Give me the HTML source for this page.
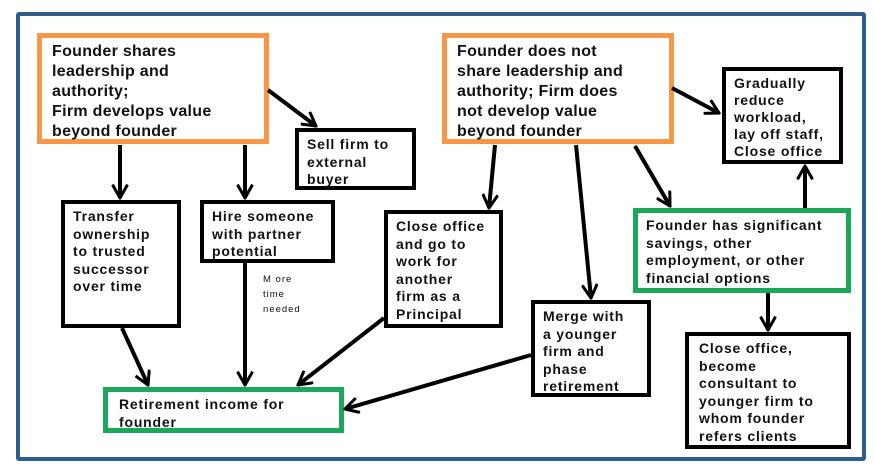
<!DOCTYPE html>
<html><head><meta charset="utf-8"><style>
body{margin:0;width:874px;height:464px;background:#fff;position:relative;overflow:hidden;font-family:"Liberation Sans",Arial,sans-serif}
.b{position:absolute;box-sizing:border-box;background:#fff;font-weight:bold;color:#111;white-space:nowrap;font-size:14px;letter-spacing:0.8px;line-height:17.5px;padding:4px 8px}
.o{border:5px solid #f79646;font-size:16px;letter-spacing:0.3px;line-height:20px;padding:4px 10px}
.k{border:4px solid #000}
.g{border:5px solid #1aa85a}
.f{position:absolute;left:16px;top:12px;width:850px;height:449px;box-sizing:border-box;border:4px solid #2e5f8c;border-radius:3px}
svg{position:absolute;left:0;top:0}
</style></head><body>
<div class="f"></div>
<div class="b o" style="left:37px;top:33px;width:232px;height:111px">Founder shares<br>leadership and<br>authority;<br>Firm develops value<br>beyond founder</div>
<div class="b o" style="left:442px;top:33px;width:232px;height:111px">Founder does not<br>share leadership and<br>authority; Firm does<br>not develop value<br>beyond founder</div>
<div class="b k" style="left:295px;top:128px;width:121px;height:62px">Sell firm to<br>external<br>buyer</div>
<div class="b k" style="left:61px;top:200px;width:120px;height:128px">Transfer<br>ownership<br>to trusted<br>successor<br>over time</div>
<div class="b k" style="left:200px;top:200px;width:135px;height:63px">Hire someone<br>with partner<br>potential</div>
<div class="b k" style="left:384px;top:210px;width:119px;height:118px">Close office<br>and go to<br>work for<br>another<br>firm as a<br>Principal</div>
<div class="b k" style="left:531px;top:300px;width:120px;height:97px">Merge with<br>a younger<br>firm and<br>phase<br>retirement</div>
<div class="b k" style="left:722px;top:67px;width:121px;height:97px;line-height:17px">Gradually<br>reduce<br>workload,<br>lay off staff,<br>Close office</div>
<div class="b g" style="left:633px;top:208px;width:218px;height:85px;line-height:17.5px">Founder has significant<br>savings, other<br>employment, or other<br>financial options</div>
<div class="b k" style="left:685px;top:332px;width:166px;height:117px;padding:4px 10px">Close office,<br>become<br>consultant to<br>younger firm to<br>whom founder<br>refers clients</div>
<div class="b g" style="left:103px;top:387px;width:241px;height:46px;padding:4px 11px">Retirement income for<br>founder</div>
<div style="position:absolute;left:263px;top:272px;font-size:9.5px;line-height:15px;letter-spacing:1px;color:#111">M ore<br>time<br>needed</div>
<svg width="874" height="464">
<defs><marker id="a" viewBox="0 0 10 10" refX="9" refY="5" markerWidth="4.2" markerHeight="4.2" orient="auto" markerUnits="strokeWidth"><polyline points="1,0.5 9,5 1,9.5" fill="none" stroke="#000" stroke-width="1.8"/></marker></defs>
<g stroke="#000" stroke-width="4" fill="none" marker-end="url(#a)">
<line x1="120" y1="145" x2="120" y2="198"/>
<line x1="245" y1="145" x2="245" y2="198"/>
<line x1="268" y1="90" x2="316" y2="126"/>
<line x1="122" y1="328" x2="148" y2="385"/>
<line x1="245" y1="263" x2="245" y2="385"/>
<line x1="384" y1="318" x2="298" y2="385"/>
<line x1="531" y1="355" x2="345" y2="409"/>
<line x1="495" y1="145" x2="489" y2="208"/>
<line x1="576" y1="145" x2="591" y2="298"/>
<line x1="635" y1="146" x2="670" y2="206"/>
<line x1="672" y1="88" x2="719" y2="113"/>
<line x1="805" y1="208" x2="805" y2="166"/>
<line x1="768" y1="293" x2="768" y2="330"/>
</g></svg>
</body></html>
